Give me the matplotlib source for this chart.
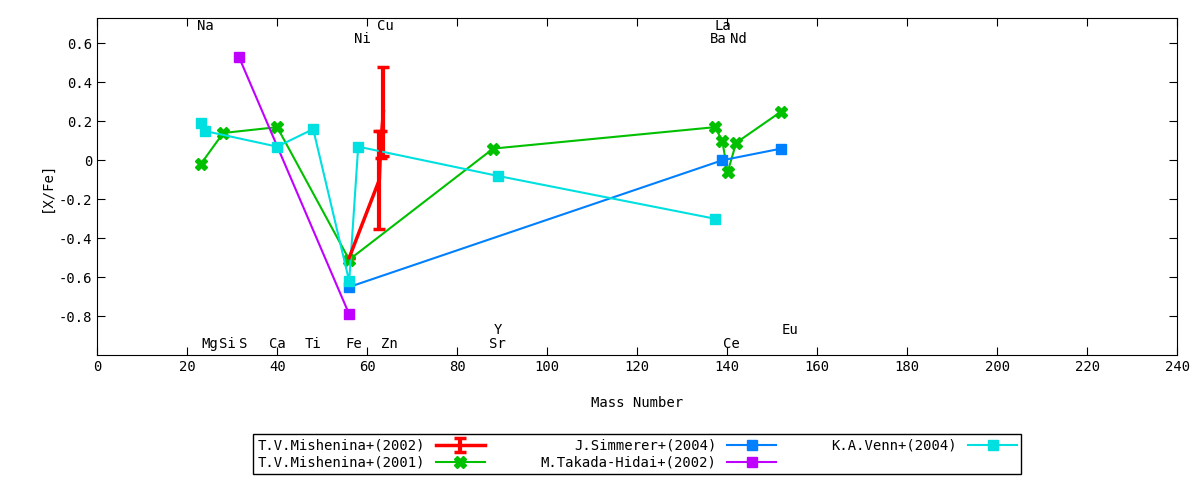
import matplotlib.pyplot as plt

plt.rcParams['font.family'] = 'DejaVu Sans Mono'
plt.rcParams['font.size'] = 10

# data: mass number, [X/Fe]
mish02_x = [56, 62.7, 63.0, 63.6]
mish02_y = [-0.50, -0.10, 0.08, 0.25]
mish02_e = [0.0, 0.25, 0.07, 0.23]

mish01_x = [23, 28, 40, 56, 88, 137.3, 138.9, 140.1, 142, 152]
mish01_y = [-0.02, 0.14, 0.17, -0.51, 0.06, 0.17, 0.10, -0.06, 0.09, 0.25]

simm_x = [56, 138.9, 152]
simm_y = [-0.65, 0.00, 0.06]

takada_x = [31.5, 56]
takada_y = [0.53, -0.79]

venn_x = [23, 24, 40, 48, 56, 58, 89, 137.3]
venn_y = [0.19, 0.15, 0.07, 0.16, -0.62, 0.07, -0.08, -0.30]

elem_names = ['Na', 'Ni', 'Cu', 'La', 'Ba', 'Nd', 'Mg', 'Si', 'S', 'Ca', 'Ti', 'Fe', 'Zn',
              'Sr', 'Ce', 'Y', 'Eu']
elem_x = [24, 59, 64, 139, 138, 142.5, 25, 29, 32.5, 40, 48, 57, 65, 89, 141, 89, 154]
elem_y = [0.69, 0.62, 0.69, 0.69, 0.62, 0.62, -0.94, -0.94, -0.94, -0.94, -0.94, -0.94,
          -0.94, -0.94, -0.94, -0.87, -0.87]

fig = plt.figure(figsize=(12, 4.8), dpi=100)
ax = fig.add_axes([0.081, 0.26, 0.9, 0.7025])

h1 = ax.errorbar(mish02_x, mish02_y, yerr=mish02_e, color='#ff0000', lw=2.5, elinewidth=3,
                 capsize=4, capthick=2.5, label='T.V.Mishenina+(2002)')
h2, = ax.plot(mish01_x, mish01_y, color='#00c000', lw=1.5, marker='X', ms=8,
              label='T.V.Mishenina+(2001)')
h3, = ax.plot(simm_x, simm_y, color='#0080ff', lw=1.5, marker='s', ms=7,
              label='J.Simmerer+(2004)')
h4, = ax.plot(takada_x, takada_y, color='#c000ff', lw=1.5, marker='s', ms=7,
              label='M.Takada-Hidai+(2002)')
h5, = ax.plot(venn_x, venn_y, color='#00e0e0', lw=1.5, marker='s', ms=7,
              label='K.A.Venn+(2004)')

for n, x, y in zip(elem_names, elem_x, elem_y):
    ax.text(x, y, n, ha='center', va='center')

ax.set_xlim(0, 240)
ax.set_ylim(-1.0, 0.73)
ax.set_xticks(range(0, 241, 20))
ax.set_yticks([0.6, 0.4, 0.2, 0, -0.2, -0.4, -0.6, -0.8])
ax.set_yticklabels(['0.6', '0.4', '0.2', '0', '-0.2', '-0.4', '-0.6', '-0.8'])
ax.tick_params(direction='in', top=True, right=True, length=6)
ax.set_xlabel('Mass Number', labelpad=16)
ax.set_ylabel('[X/Fe]')

handles = [h1, h2, h3, h4, h5]
ax.legend(handles, [h.get_label() for h in handles],
          loc='upper center', bbox_to_anchor=(0.5, -0.235), ncol=3, markerfirst=False,
          fancybox=False, edgecolor='black', framealpha=1, borderaxespad=0,
          handlelength=3.5, columnspacing=4, borderpad=0.3, labelspacing=0.2)

fig.savefig('out.png')
